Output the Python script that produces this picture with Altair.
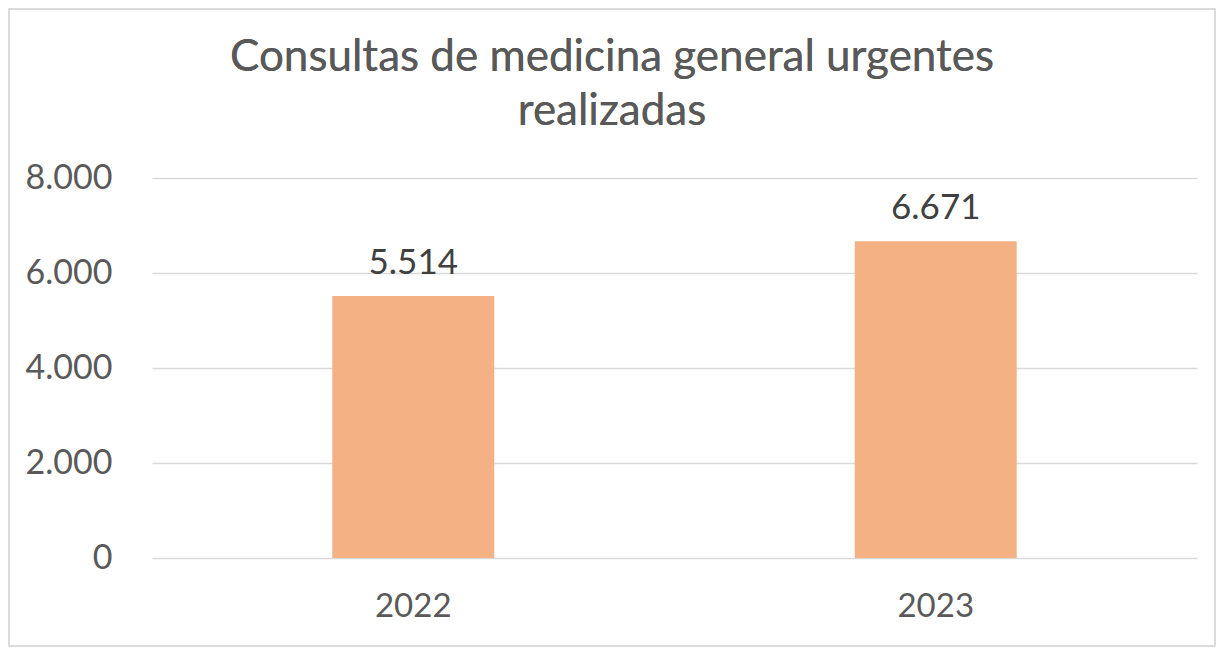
import altair as alt
import pandas as pd

years = ["2022", "2023"]
values = [5514, 6671]
y_ticks = [0, 2000, 4000, 6000, 8000]
title_lines = ["Consultas de medicina general urgentes", "realizadas"]

df = pd.DataFrame({"year": years, "value": values})

FONT = "Lato"
GREY = "#595959"

base = alt.Chart(df).transform_calculate(
    label="replace(format(datum.value, ','), ',', '.')"
)

x = alt.X("year:N", title=None,
          scale=alt.Scale(paddingInner=0.69, paddingOuter=0.345),
          axis=alt.Axis(labelAngle=0, labelFontSize=33, labelColor=GREY, labelFont=FONT,
                        labelPadding=32, ticks=False, domain=False))
y = alt.Y("value:Q", title=None,
          scale=alt.Scale(domain=[0, 8000], nice=False),
          axis=alt.Axis(values=y_ticks, labelFontSize=34, labelColor=GREY, labelFont=FONT,
                        labelPadding=40, ticks=False, domain=False,
                        gridColor="#d9d9d9", gridWidth=1.3,
                        labelExpr="replace(format(datum.value, ','), ',', '.')"))

bars = base.mark_bar(color="#F4B183").encode(x=x, y=y)
texts = base.mark_text(dy=-33, fontSize=35, font=FONT, color="#404040").encode(
    x=x, y=y, text="label:N")

title1 = alt.Chart(df).mark_text(text=title_lines[0], fontSize=44, font=FONT, color=GREY,
                                 baseline="middle", align="center").encode(
    x=alt.value(460), y=alt.value(-120))
title2 = alt.Chart(df).mark_text(text=title_lines[1], fontSize=44, font=FONT, color=GREY,
                                 baseline="middle", align="center").encode(
    x=alt.value(460), y=alt.value(-66))

frame = alt.Chart(df).mark_rect(fill=None, stroke="#d9d9d9", strokeWidth=1.5).encode(
    x=alt.value(-143), x2=alt.value(1063), y=alt.value(-169), y2=alt.value(468))

chart = alt.layer(frame, bars, texts, title1, title2).properties(
    width=1045, height=380,
    autosize=alt.AutoSizeParams(type="none"),
    padding={"left": 144, "top": 170, "right": 20, "bottom": 92},
).configure(background="white").configure_view(stroke=None)

chart.save("out.html", embed_options={"renderer": "svg", "actions": False})
